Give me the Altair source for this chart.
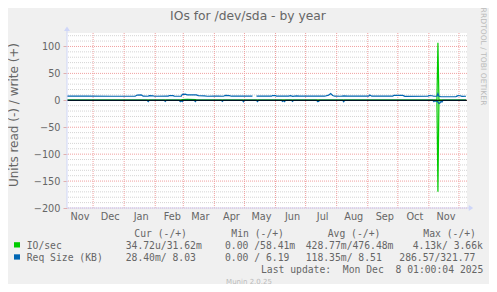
import altair as alt
import pandas as pd

def ms(s):
    return int(pd.Timestamp(s, tz="UTC").value // 10**6)

# ---------------- data ----------------
X_START = "2024-11-05"
X_END = "2025-12-09"

month_starts = ["2024-12-01", "2025-01-01", "2025-02-01", "2025-03-01", "2025-04-01",
                "2025-05-01", "2025-06-01", "2025-07-01", "2025-08-01", "2025-09-01",
                "2025-10-01", "2025-11-01", "2025-12-01"]
month_label_pos = ["2024-11-17T12:00", "2024-12-17T12:00", "2025-01-17T12:00", "2025-02-17T12:00",
                   "2025-03-17T12:00", "2025-04-17T12:00", "2025-05-17T12:00", "2025-06-17T12:00",
                   "2025-07-17T12:00", "2025-08-17T12:00", "2025-09-17T12:00", "2025-10-17T12:00",
                   "2025-11-17T12:00"]
y_major = [-200, -150, -100, -50, 0, 50, 100]
y_minor = [-190, -180, -170, -160, -140, -130, -120, -110, -90, -80, -70, -60,
           -40, -30, -20, -10, 10, 20, 30, 40, 60, 70, 80, 90, 110, 120]

# IO/sec (green) write (+) and read (-)
io_w_dates = ["2024-11-05", "2024-12-01", "2025-01-15", "2025-02-27", "2025-02-28", "2025-03-05",
              "2025-03-13", "2025-03-14", "2025-06-01", "2025-08-15", "2025-11-08", "2025-11-09",
              "2025-11-10", "2025-11-11", "2025-11-12", "2025-12-08"]
io_w_vals = [0.4, 0.3, 0.4, 0.4, 1.4, 1.6, 1.4, 0.4, 0.3, 0.4, 0.4, 0.5, 107, 0.6, 0.4, 0.3]

io_r_dates = ["2024-11-05", "2025-11-09", "2025-11-10", "2025-11-11", "2025-12-08"]
io_r_vals = [-0.1, -0.2, -170, -0.3, -0.1]

# Req Size (KB) (blue) write (+)
req_w_dates = ["2024-11-05", "2024-11-25", "2024-12-20", "2025-01-12", "2025-01-14", "2025-01-18",
               "2025-01-20", "2025-01-25", "2025-01-26", "2025-01-30", "2025-01-31", "2025-02-14",
               "2025-02-15", "2025-02-19", "2025-02-20", "2025-02-27", "2025-02-28", "2025-03-03",
               "2025-03-05", "2025-03-14", "2025-03-16", "2025-03-22", "2025-03-25", "2025-04-01",
               "2025-04-05", "2025-04-10", "2025-04-12", "2025-04-16", "2025-04-18", "2025-05-09",
               "2025-05-10", "2025-05-13", "2025-05-28", "2025-05-29", "2025-06-01", "2025-06-02",
               "2025-06-14", "2025-06-16", "2025-06-18", "2025-06-22", "2025-06-25", "2025-07-20",
               "2025-07-24", "2025-07-26", "2025-07-28", "2025-07-30", "2025-08-05", "2025-08-08",
               "2025-08-12", "2025-09-02", "2025-09-03", "2025-09-05", "2025-09-26", "2025-09-27",
               "2025-10-06", "2025-10-08", "2025-10-31", "2025-11-01", "2025-11-04", "2025-11-06",
               "2025-11-09", "2025-11-10", "2025-11-11", "2025-11-13", "2025-11-28", "2025-11-30",
               "2025-12-02", "2025-12-04", "2025-12-08"]
req_w_vals = [7.8, 7.6, 7.5, 7.5, 9.8, 10.0,
              7.6, 7.5, 8.6, 8.4, 7.5, 7.6,
              8.8, 8.6, 7.5, 7.5, 11.2, 11.5,
              10.2, 10.0, 8.6, 8.2, 7.5, 7.8,
              7.6, 7.5, 9.0, 8.8, 7.6, 7.8,
              None, 7.6, 7.7, 8.8, 8.6, 7.6,
              7.8, 8.5, 7.5, 8.3, 7.6, 7.6,
              9.5, 12.6, 9.0, 7.6, 7.5, 8.2,
              7.6, 7.6, 9.8, 7.6, 7.6, 9.2,
              9.2, 7.4, 7.5, 8.7, 8.5, 7.5,
              7.6, 12.3, 7.5, 6.6, 7.0, 8.6,
              8.5, 7.4, 7.5]

# Req Size (KB) (blue) read (-)
req_r_dates = ["2024-11-05",
               "2025-01-24", "2025-01-25", "2025-01-26",
               "2025-02-10", "2025-02-11", "2025-02-12",
               "2025-02-25", "2025-02-26", "2025-02-27", "2025-02-28", "2025-03-01",
               "2025-03-12", "2025-03-13", "2025-03-14",
               "2025-04-08", "2025-04-09", "2025-04-10",
               "2025-04-29", "2025-04-30", "2025-05-01",
               "2025-05-13", "2025-05-14", "2025-05-15",
               "2025-06-07", "2025-06-08", "2025-06-09", "2025-06-10", "2025-06-11",
               "2025-06-17", "2025-06-18", "2025-06-19",
               "2025-07-12", "2025-07-13", "2025-07-14", "2025-07-15",
               "2025-08-07", "2025-08-08", "2025-08-09",
               "2025-11-05", "2025-11-06", "2025-11-07", "2025-11-08", "2025-11-09", "2025-11-10",
               "2025-11-11", "2025-11-12", "2025-11-13", "2025-11-14", "2025-11-15",
               "2025-12-08"]
req_r_vals = [-0.2,
              -0.2, -2.5, -0.2,
              -0.2, -2.2, -0.2,
              -0.2, -2.6, -1.0, -2.6, -0.2,
              -0.2, -2.4, -0.2,
              -0.2, -2.2, -0.2,
              -0.2, -2.6, -0.2,
              -0.2, -2.5, -0.2,
              -0.2, -2.2, -0.5, -2.4, -0.2,
              -0.2, -2.0, -0.2,
              -0.2, -2.4, -2.0, -0.2,
              -0.2, -2.6, -0.2,
              -0.2, -2.5, -0.5, -2.0, -1.0, -3.5,
              -6.0, -5.0, -2.0, -3.5, -0.3,
              -0.2]

NB = "\u00a0"
legend_header = ["Cur (-/+)", "Min (-/+)", "Avg (-/+)", "Max (-/+)"]
legend_io = ["34.72u/31.62m", "0.00 /58.41m", "428.77m/476.48m", "4.13k/ 3.66k"]
legend_req = ["28.40m/ 8.03", "0.00 / 6.19", "118.35m/ 8.51", "286.57/321.77"]
last_update = "Last update:" + NB + NB + "Mon Dec" + NB + NB + "8 01:00:04 2025"

# ---------------- styling ----------------
FONT = "DejaVu Sans"
MONO = "DejaVu Sans Mono"
FC = "#666666"
AXIS_C = "#CFD6F8"
GREEN = "#00CC00"
BLUE = "#0066B3"
W, H = 400, 175

xscale = alt.Scale(type="utc", domain=[ms(X_START), ms(X_END)])
yscale = alt.Scale(domain=[-200, 125], nice=False, zero=False)

xaxis = alt.Axis(values=[ms(d) for d in month_label_pos], format="%b", title=None,
                 ticks=False, tickSize=0, domain=False, grid=False, labelPadding=11.5,
                 labelBaseline="alphabetic", labelFont=FONT, labelFontSize=9.72,
                 labelColor=FC, labelFlush=False, labelOverlap=False)
yaxis = alt.Axis(values=y_major, title=None, domain=False, grid=False, tickSize=4,
                 tickColor="#E0B0B0", labelPadding=3, labelFont=FONT, labelFontSize=9.72,
                 labelColor=FC)

X = alt.X("t:T", scale=xscale, axis=xaxis)
Y = alt.Y("v:Q", scale=yscale, axis=yaxis)


def series_df(dates, vals):
    return pd.DataFrame({"t": [ms(d) for d in dates], "v": vals})


grid_minor = alt.Chart(pd.DataFrame({"v": y_minor})).mark_rule(
    color="#D4D4D4", strokeDash=[1, 1], strokeWidth=1).encode(y=Y)
grid_major = alt.Chart(pd.DataFrame({"v": y_major})).mark_rule(
    color="#F0A0A0", strokeDash=[1, 1], strokeWidth=1).encode(y=Y)
grid_v = alt.Chart(pd.DataFrame({"t": [ms(d) for d in month_starts]})).mark_rule(
    color="#F0A0A0", strokeDash=[1, 1], strokeWidth=1).encode(x=X)


def line(dates, vals, color):
    return alt.Chart(series_df(dates, vals)).mark_line(
        color=color, strokeWidth=1.2, interpolate="linear").encode(x=X, y=Y)


io_w = line(io_w_dates, io_w_vals, GREEN)
io_r = line(io_r_dates, io_r_vals, GREEN)
req_w = line(req_w_dates, req_w_vals, BLUE)
req_r = line(req_r_dates, req_r_vals, BLUE)

zero = alt.Chart(pd.DataFrame({"v": [0]})).mark_rule(color="#000000", strokeWidth=1).encode(y=Y)

dummy = pd.DataFrame({"d": [0]})
y_axis_line = alt.Chart(dummy).mark_rule(color=AXIS_C, strokeWidth=1).encode(
    x=alt.value(0), y=alt.value(-3), y2=alt.value(H))
x_axis_line = alt.Chart(dummy).mark_rule(color=AXIS_C, strokeWidth=1).encode(
    x=alt.value(0), x2=alt.value(W + 3), y=alt.value(H))
arrow_up = alt.Chart(dummy).mark_point(
    shape="M-1,0.75L1,0.75L0,-0.75Z", filled=True, size=36, color=AXIS_C, opacity=1).encode(
    x=alt.value(0), y=alt.value(-4.2))
arrow_right = alt.Chart(dummy).mark_point(
    shape="M-0.75,-1L0.75,0L-0.75,1Z", filled=True, size=36, color=AXIS_C, opacity=1).encode(
    x=alt.value(W + 4), y=alt.value(H))


def txt(s, x, y, size=9.72, font=MONO, color=FC, align="left", baseline="alphabetic", angle=0):
    return alt.Chart(pd.DataFrame({"s": [s]})).mark_text(
        align=align, baseline=baseline, font=font, fontSize=size, color=color, angle=angle).encode(
        x=alt.value(x), y=alt.value(y), text="s:N")


texts = [
    txt("IOs for /dev/sda - by year", 181, -13.2, size=12.3, font=FONT, align="center"),
    txt("Units read (-) / write (+)", -49.2, 82, size=12, font=FONT, align="center", angle=270),
    txt("RRDTOOL / TOBI OETIKER", 413.5, 23.5, size=7.6, font=FONT, color="#BBBBBB",
        align="center", angle=90),
    txt("IO/sec", -40.3, 216.3),
    txt("Req Size (KB)", -40.3, 228.3),
    txt(last_update, 416.3, 240.3, align="right"),
    txt("Munin 2.0.25", 182, 250.5, size=7, font=FONT, color="#BBBBBB", align="center"),
]
hx = [67.3, 164.3, 260.7, 356.3]
for s, x in zip(legend_header, hx):
    texts.append(txt(s, x, 204))
for s, x in zip(legend_io, [58.7, 158, 238.7, 345.7]):
    texts.append(txt(s, x, 216.3))
for s, x in zip(legend_req, [58.7, 158, 238.7, 332.3]):
    texts.append(txt(s, x, 228.3))

box_io = alt.Chart(dummy).mark_rect(color=GREEN).encode(
    x=alt.value(-53), x2=alt.value(-47), y=alt.value(209.2), y2=alt.value(214.5))
box_req = alt.Chart(dummy).mark_rect(color=BLUE).encode(
    x=alt.value(-53), x2=alt.value(-47), y=alt.value(221.3), y2=alt.value(226.6))

chart = alt.layer(
    grid_minor, grid_major, grid_v,
    io_w, io_r, req_w, req_r, zero,
    y_axis_line, x_axis_line, arrow_up, arrow_right,
    box_io, box_req, *texts
).properties(
    width=W, height=H,
    autosize=alt.AutoSizeParams(type="none"),
    padding={"left": 59, "top": 25, "right": 22, "bottom": 76},
    background="#F0F0F0",
).configure_view(stroke=None, fill="white")

chart.save("out.html", embed_options={"renderer": "svg", "actions": False})
